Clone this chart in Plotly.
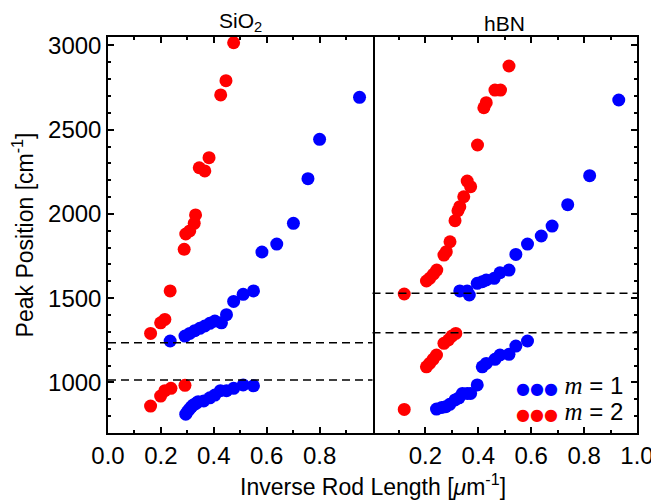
import plotly.graph_objects as go
from plotly.subplots import make_subplots

# ---------------- data ----------------
sio2_m1_x = [0.235, 0.291, 0.309, 0.328, 0.347, 0.366, 0.385, 0.404, 0.429, 0.448, 0.475, 0.511, 0.550,
             0.582, 0.638, 0.701, 0.756, 0.800, 0.951,
             0.294, 0.300, 0.307, 0.315, 0.322, 0.333, 0.341, 0.362, 0.385, 0.404, 0.425, 0.448, 0.475, 0.511, 0.550]
sio2_m1_y = [1246, 1275, 1291, 1307, 1321, 1335, 1351, 1364, 1354, 1402, 1481, 1523, 1543,
             1774, 1821, 1944, 2209, 2443, 2692,
             812, 826, 840, 855, 866, 876, 886, 890, 909, 925, 951, 951, 965, 985, 980]

sio2_m2_x = [0.161, 0.199, 0.215, 0.235, 0.288, 0.294, 0.309, 0.326, 0.331, 0.345, 0.366, 0.382, 0.426, 0.446, 0.475,
             0.161, 0.199, 0.215, 0.238, 0.291]
sio2_m2_y = [1291, 1354, 1374, 1543, 1790, 1881, 1899, 1944, 1994, 2274, 2255, 2334, 2706, 2791, 3016,
             860, 919, 951, 965, 983]

hbn_m1_x = [0.330, 0.358, 0.366, 0.396, 0.415, 0.430, 0.460, 0.482, 0.516, 0.542, 0.586, 0.638, 0.679, 0.738, 0.821, 0.931,
            0.242, 0.262, 0.277, 0.292, 0.312, 0.327, 0.340, 0.358, 0.371, 0.396, 0.415, 0.430, 0.463, 0.482, 0.516, 0.542, 0.586]
hbn_m1_y = [1543, 1543, 1519, 1588, 1598, 1608, 1618, 1651, 1667, 1760, 1821, 1869, 1928, 2055, 2227, 2676,
            842, 852, 856, 870, 896, 909, 935, 935, 935, 985, 1093, 1113, 1137, 1163, 1167, 1216, 1246]

hbn_m2_x = [0.120, 0.204, 0.216, 0.230, 0.243, 0.270, 0.279, 0.293, 0.312, 0.323, 0.330, 0.345, 0.358, 0.371,
            0.397, 0.421, 0.430, 0.463, 0.484, 0.516,
            0.120, 0.204, 0.216, 0.229, 0.242, 0.270, 0.287, 0.300, 0.315]
hbn_m2_y = [1525, 1602, 1618, 1642, 1667, 1756, 1776, 1835, 1960, 2019, 2043, 2102, 2195, 2162,
            2409, 2630, 2660, 2735, 2735, 2878,
            840, 1093, 1113, 1137, 1163, 1232, 1252, 1275, 1291]

sio2_lines = [1235, 1015]
hbn_lines = [1530, 1295]

panel_titles = ["SiO<sub>2</sub>", "hBN"]
left_ticks = [0.0, 0.2, 0.4, 0.6, 0.8]
right_ticks = [0.2, 0.4, 0.6, 0.8, 1.0]
y_ticks = [1000, 1500, 2000, 2500, 3000]

BLUE = "#0000FF"
RED = "#FF0000"
FONT = "Liberation Sans, Arial, sans-serif"

fig = make_subplots(rows=1, cols=2, shared_yaxes=True, horizontal_spacing=0,
                    subplot_titles=panel_titles)

for col, (xs1, ys1, xs2, ys2) in enumerate([(sio2_m1_x, sio2_m1_y, sio2_m2_x, sio2_m2_y),
                                            (hbn_m1_x, hbn_m1_y, hbn_m2_x, hbn_m2_y)], start=1):
    fig.add_trace(go.Scatter(x=xs1, y=ys1, mode="markers", showlegend=False,
                             marker=dict(color=BLUE, size=13, line=dict(width=0))), row=1, col=col)
    fig.add_trace(go.Scatter(x=xs2, y=ys2, mode="markers", showlegend=False,
                             marker=dict(color=RED, size=13, line=dict(width=0))), row=1, col=col)

for col, lines in [(1, sio2_lines), (2, hbn_lines)]:
    for yv in lines:
        fig.add_hline(y=yv, line=dict(color="black", width=1.5, dash="8px,5px"), row=1, col=col)

minor_x = dict(tickmode="linear", tick0=0, dtick=0.1, ticks="inside", ticklen=3,
               tickwidth=1.5, tickcolor="black")
minor_y = dict(tickmode="linear", tick0=0, dtick=100, ticks="inside", ticklen=3,
               tickwidth=1.5, tickcolor="black")

common_x = dict(range=[0, 1], ticks="inside", ticklen=6, tickwidth=1.5, tickcolor="black",
                showline=True, linecolor="black", linewidth=1.5, mirror="ticks",
                showgrid=False, zeroline=False, minor=minor_x, automargin=False,
                tickfont=dict(family=FONT, size=24, color="black"))

fig.update_xaxes(**common_x, tickmode="array", tickvals=left_ticks,
                 ticktext=[f"{v:.1f}" for v in left_ticks], row=1, col=1)
fig.update_xaxes(**common_x, tickmode="array", tickvals=right_ticks,
                 ticktext=[f"{v:.1f}" for v in right_ticks], row=1, col=2)

common_y = dict(range=[700, 3050], tickmode="array", tickvals=y_ticks,
                ticks="inside", ticklen=6, tickwidth=1.5, tickcolor="black",
                showline=True, linecolor="black", linewidth=1.5,
                showgrid=False, zeroline=False, minor=minor_y, automargin=False,
                tickfont=dict(family=FONT, size=24, color="black"))
fig.update_yaxes(**common_y, mirror=True, row=1, col=1,
                 title=dict(text="Peak Position [cm<sup>-1</sup>]",
                            font=dict(family=FONT, size=23, color="black"), standoff=12))
fig.update_yaxes(**common_y, mirror=False, row=1, col=2, side="right", showticklabels=False)

# subplot title fonts
for ann in fig.layout.annotations:
    ann.font = dict(family=FONT, size=21, color="black")
    ann.yshift = 0

fig.add_annotation(text="Inverse Rod Length [<i>μ</i>m<sup>-1</sup>]", xref="paper", yref="paper",
                   x=0.5, y=-0.131, xanchor="center", yanchor="middle", showarrow=False,
                   font=dict(family=FONT, size=23, color="black"))

legend_rows = [("1", BLUE, 0.121), ("2", RED, 0.054)]
for label, color, yy in legend_rows:
    fig.add_annotation(
        text=(f"<span style='color:{color};font-family:DejaVu Sans;font-size:16px'>●●●</span>"
              f" <span style='font-family:Liberation Serif;font-size:25px'><i>m</i></span> = {label}"),
        xref="paper", yref="paper", x=0.977, y=yy, xanchor="right", yanchor="middle",
        showarrow=False, font=dict(family=FONT, size=24, color="black"))

# page body has an 8px margin, so the figure is sized to the remaining window area
fig.update_layout(width=651, height=492, margin=dict(l=100, r=22, t=29, b=67, autoexpand=False),
                  plot_bgcolor="white", paper_bgcolor="white", showlegend=False)

fig.write_html("out.html")
